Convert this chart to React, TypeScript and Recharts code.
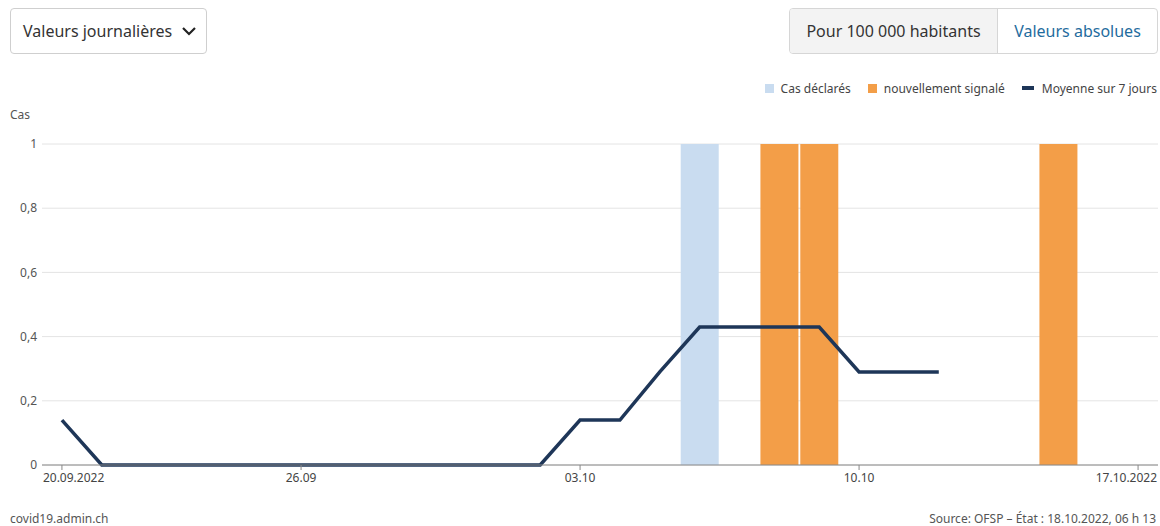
import React from "react";
import {
  ComposedChart,
  Bar,
  Line,
  XAxis,
  YAxis,
  CartesianGrid,
} from "recharts";

const dates = [
  "20.09", "21.09", "22.09", "23.09", "24.09", "25.09", "26.09",
  "27.09", "28.09", "29.09", "30.09", "01.10", "02.10", "03.10",
  "04.10", "05.10", "06.10", "07.10", "08.10", "09.10", "10.10",
  "11.10", "12.10", "13.10", "14.10", "15.10", "16.10", "17.10",
];
const reported = [
  0, 0, 0, 0, 0, 0, 0, 0, 0, 0, 0, 0, 0, 0,
  0, 0, 1, 0, 0, 0, 0, 0, 0, 0, 0, 0, 0, 0,
];
const newlyReported = [
  0, 0, 0, 0, 0, 0, 0, 0, 0, 0, 0, 0, 0, 0,
  0, 0, 0, 0, 1, 1, 0, 0, 0, 0, 0, 1, 0, 0,
];
const average: (number | null)[] = [
  0.14, 0, 0, 0, 0, 0, 0, 0, 0, 0, 0, 0, 0, 0.14,
  0.14, 0.29, 0.43, 0.43, 0.43, 0.43, 0.29, 0.29, 0.29, null, null, null, null, null,
];
const xTicks = ["20.09", "26.09", "03.10", "10.10", "17.10"];
const xTickLabels: Record<string, string> = {
  "20.09": "20.09.2022",
  "26.09": "26.09",
  "03.10": "03.10",
  "10.10": "10.10",
  "17.10": "17.10.2022",
};
const yTicks = [0, 0.2, 0.4, 0.6, 0.8, 1];

const data = dates.map((d, i) => ({
  date: d,
  reported: reported[i],
  newly: newlyReported[i],
  avg: average[i],
}));

const FONT = "'Noto Sans', 'Open Sans', sans-serif";
const BLUE = "#c9dcf0";
const ORANGE = "#f39e48";
const NAVY = "#1e3658";

const XTick = (props: any) => {
  const { x, y, payload } = props;
  const v = payload.value as string;
  let anchor: "start" | "middle" | "end" = "middle";
  let dx = 0;
  if (v === "20.09") {
    anchor = "start";
    dx = -19;
  } else if (v === "17.10") {
    anchor = "end";
    dx = 19;
  }
  return (
    <g>
      <line x1={x} x2={x} y1={465} y2={470} stroke="#888" strokeWidth={1} />
      <text
        x={x + dx}
        y={482}
        textAnchor={anchor}
        fontSize={12}
        fill="#444"
        fontFamily={FONT}
      >
        {xTickLabels[v]}
      </text>
    </g>
  );
};

export default function App() {
  return (
    <div
      style={{
        position: "absolute",
        left: 0,
        top: 0,
        width: 1160,
        height: 526,
        background: "#fff",
        fontFamily: FONT,
        overflow: "hidden",
      }}
    >
      {/* dropdown */}
      <div
        style={{
          position: "absolute",
          left: 10,
          top: 8,
          width: 195,
          height: 44,
          border: "1px solid #cfcfcf",
          borderRadius: 4,
          boxSizing: "content-box",
        }}
      >
        <span
          style={{
            position: "absolute",
            left: 12,
            top: 11,
            fontSize: 16,
            color: "#333",
            lineHeight: "22px",
          }}
        >
          Valeurs journalières
        </span>
        <svg
          style={{ position: "absolute", left: 170, top: 16 }}
          width={16}
          height={12}
          viewBox="0 0 16 12"
        >
          <polyline
            points="2,3 8,9 14,3"
            fill="none"
            stroke="#222"
            strokeWidth={2.2}
          />
        </svg>
      </div>

      {/* toggle */}
      <div
        style={{
          position: "absolute",
          left: 789,
          top: 8,
          width: 367,
          height: 44,
          border: "1px solid #d6d6d6",
          borderRadius: 4,
          overflow: "hidden",
          display: "flex",
        }}
      >
        <div
          style={{
            width: 207,
            height: 44,
            background: "#f3f3f3",
            borderRight: "1px solid #d6d6d6",
            display: "flex",
            alignItems: "center",
            justifyContent: "center",
            fontSize: 16,
            color: "#333",
          }}
        >
          Pour 100 000 habitants
        </div>
        <div
          style={{
            flex: 1,
            height: 44,
            display: "flex",
            alignItems: "center",
            justifyContent: "center",
            fontSize: 16,
            color: "#1f6c9e",
          }}
        >
          Valeurs absolues
        </div>
      </div>

      {/* legend */}
      <div
        style={{
          position: "absolute",
          right: 3,
          top: 80,
          height: 16,
          display: "flex",
          alignItems: "center",
          fontSize: 12,
          color: "#444",
          whiteSpace: "nowrap",
        }}
      >
        <span style={{ width: 9, height: 9, background: BLUE, display: "inline-block", marginRight: 7 }} />
        <span style={{ marginRight: 17 }}>Cas déclarés</span>
        <span style={{ width: 9, height: 9, background: ORANGE, display: "inline-block", marginRight: 7 }} />
        <span style={{ marginRight: 17 }}>nouvellement signalé</span>
        <span style={{ width: 12, height: 4, background: NAVY, display: "inline-block", marginRight: 8 }} />
        <span>Moyenne sur 7 jours</span>
      </div>

      {/* y label */}
      <div
        style={{
          position: "absolute",
          left: 10,
          top: 106,
          fontSize: 12,
          color: "#555",
        }}
      >
        Cas
      </div>

      <div style={{ position: "absolute", left: 0, top: 0 }}>
        <ComposedChart
          width={1160}
          height={526}
          data={data}
          margin={{ top: 144, right: 2, bottom: 0, left: 0 }}
          barCategoryGap={1}
        >
          <CartesianGrid vertical={false} stroke="#e4e4e4" />
          <XAxis
            dataKey="date"
            ticks={xTicks}
            interval={0}
            tick={<XTick />}
            tickLine={false}
            axisLine={{ stroke: "#888" }}
            height={61}
          />
          <YAxis
            width={42}
            domain={[0, 1]}
            ticks={yTicks}
            tickSize={0}
            tickMargin={5}
            axisLine={false}
            tickLine={false}
            tick={{ fontSize: 12, fill: "#555", fontFamily: FONT }}
            tickFormatter={(v: number) => String(v).replace(".", ",")}
          />
          <Bar dataKey="reported" stackId="a" fill={BLUE} isAnimationActive={false} />
          <Bar dataKey="newly" stackId="a" fill={ORANGE} isAnimationActive={false} />
          <Line
            dataKey="avg"
            type="linear"
            stroke={NAVY}
            strokeWidth={3.5}
            dot={false}
            activeDot={false}
            connectNulls={false}
            isAnimationActive={false}
          />
        </ComposedChart>
      </div>

      {/* footer */}
      <div style={{ position: "absolute", left: 10, top: 510, fontSize: 12, color: "#555" }}>
        covid19.admin.ch
      </div>
      <div style={{ position: "absolute", right: 4, top: 510, fontSize: 12, color: "#555" }}>
        Source: OFSP – État : 18.10.2022, 06 h 13
      </div>
    </div>
  );
}
